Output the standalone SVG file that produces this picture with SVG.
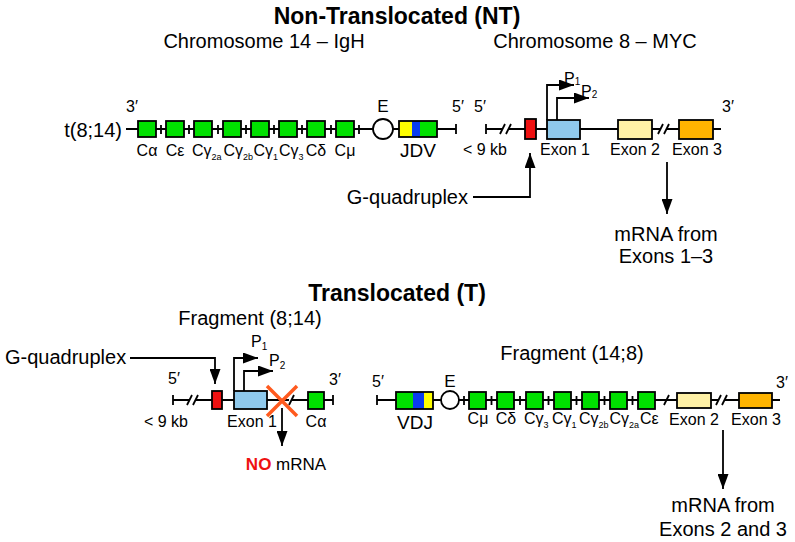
<svg xmlns="http://www.w3.org/2000/svg" width="795" height="542" viewBox="0 0 795 542">
<style>
text{font-family:"Liberation Sans",Arial,sans-serif;fill:#000}
.ttl{font-size:23px;font-weight:bold;text-anchor:middle}
.sub{font-size:20px;text-anchor:middle}
.lb{font-size:16px}
.mid{text-anchor:middle}
.big{font-size:20px}
.ln{stroke:#000;stroke-width:1.8;fill:none}
.bx{stroke:#000;stroke-width:1.8}
.g{fill:#00e000}.r{fill:#ee1111}.b{fill:#0a3cf0}.y{fill:#ffff00}
.lb1{fill:#8fc9ec}.py{fill:#fff1a6}.or{fill:#ffb400}
.ci{fill:#fff;stroke:#000;stroke-width:1.8}
.xx{stroke:#ff5a1e;stroke-width:3.5;fill:none}
</style>
<defs>
<marker id="ah" markerUnits="userSpaceOnUse" markerWidth="15" markerHeight="11" refX="15" refY="5.5" orient="auto"><path d="M0,0 L15,5.5 L0,11 z" fill="#000"/></marker>
</defs>

<text class="ttl" x="397" y="24">Non-Translocated (NT)</text>
<text class="sub" x="264" y="48">Chromosome 14 – IgH</text>
<text class="sub" x="595" y="48">Chromosome 8 – MYC</text>
<text class="ttl" x="397" y="301">Translocated (T)</text>
<text class="sub" x="250" y="325">Fragment (8;14)</text>
<text class="sub" x="572" y="360">Fragment (14;8)</text>

<!-- Chromosome 14 IgH -->
<g id="chr14">
<text class="big" x="122" y="137" text-anchor="end">t(8;14)</text>
<path class="ln" d="M126,129 H456 M456,124 V134 M161,125 V134 M189,125 V134 M218,125 V134 M246,125 V134 M274,125 V134 M302,125 V134 M331,125 V134 M359,125 V134"/>
<rect class="bx g" x="138" y="121" width="18" height="16"/>
<rect class="bx g" x="166" y="121" width="18" height="16"/>
<rect class="bx g" x="194" y="121" width="18" height="16"/>
<rect class="bx g" x="223" y="121" width="18" height="16"/>
<rect class="bx g" x="251" y="121" width="18" height="16"/>
<rect class="bx g" x="279" y="121" width="18" height="16"/>
<rect class="bx g" x="307" y="121" width="18" height="16"/>
<rect class="bx g" x="336" y="121" width="18" height="16"/>
<circle class="ci" cx="383" cy="129" r="10"/>
<rect class="y" x="399" y="121" width="13" height="16"/>
<rect class="b" x="412" y="121" width="8" height="16"/>
<rect class="g" x="420" y="121" width="17" height="16"/>
<rect class="bx" x="399" y="121" width="38" height="16" fill="none"/>
<text class="lb" x="126" y="112">3′</text>
<text class="mid" x="383" y="112" font-size="17">E</text>
<text class="lb" x="452" y="112">5′</text>
<text class="lb mid" x="147" y="156">Cα</text>
<text class="lb mid" x="175" y="156">Cε</text>
<text class="lb" x="192" y="156">Cγ<tspan font-size="9" dy="4">2a</tspan></text>
<text class="lb" x="223.5" y="156">Cγ<tspan font-size="9" dy="4">2b</tspan></text>
<text class="lb" x="253.5" y="156">Cγ<tspan font-size="9" dy="4">1</tspan></text>
<text class="lb" x="279" y="156">Cγ<tspan font-size="9" dy="4">3</tspan></text>
<text class="lb mid" x="316" y="156">Cδ</text>
<text class="lb mid" x="345" y="156">Cμ</text>
<text class="mid" x="418" y="157" font-size="19">JDV</text>
</g>

<!-- Chromosome 8 MYC -->
<g id="chr8">
<path class="ln" d="M486,124 V134 M486,129 H503 M500,134 L505,124 M506,134 L511,124 M509,129 H525 M536,129 H547 M580,129 H618 M652,129 H661 M658,134 L663,124 M664,134 L669,124 M667,129 H679 M713,129 H721"/>
<rect class="bx r" x="525" y="119" width="11" height="20"/>
<rect class="bx lb1" x="547" y="120" width="33" height="19"/>
<rect class="bx py" x="618" y="120" width="34" height="19"/>
<rect class="bx or" x="679" y="120" width="34" height="19"/>
<path class="ln" d="M547,120 V85 H574" marker-end="url(#ah)"/>
<path class="ln" d="M557,120 V98 H589" marker-end="url(#ah)"/>
<text class="lb" x="564" y="84">P<tspan font-size="10" dy="1">1</tspan></text>
<text class="lb" x="581" y="97">P<tspan font-size="10" dy="1">2</tspan></text>
<text class="lb" x="474" y="112">5′</text>
<text class="lb" x="722" y="112">3′</text>
<text class="lb" x="507" y="155" text-anchor="end">&lt; 9 kb</text>
<text class="lb mid" x="565" y="155">Exon 1</text>
<text class="lb mid" x="635" y="155">Exon 2</text>
<text class="lb mid" x="697" y="155">Exon 3</text>
</g>

<!-- Fragment (8;14) -->
<g id="frag814">
<path class="ln" d="M173,395 V405 M173,400 H190 M187,405 L192,395 M193,405 L198,395 M196,400 H212 M222,400 H234 M267,400 H289 M289,405 L294,395 M292,400 H308 M324,400 H333 M333,395 V405"/>
<rect class="bx r" x="212" y="391" width="10" height="18"/>
<rect class="bx lb1" x="234" y="391" width="33" height="18"/>
<rect class="bx g" x="308" y="392" width="16" height="17"/>
<path class="xx" d="M267,386 L297,416 M297,386 L267,416"/>
<path class="ln" d="M234,391 V358 H258" marker-end="url(#ah)"/>
<path class="ln" d="M244,391 V371 H273" marker-end="url(#ah)"/>
<text class="lb" x="251" y="347">P<tspan font-size="10" dy="3">1</tspan></text>
<text class="lb" x="269" y="366">P<tspan font-size="10" dy="3">2</tspan></text>
<text class="lb" x="168" y="384">5′</text>
<text class="lb" x="329" y="385">3′</text>
<text class="lb" x="188" y="427" text-anchor="end">&lt; 9 kb</text>
<text class="lb mid" x="252" y="427">Exon 1</text>
<text class="lb mid" x="316" y="427">Cα</text>
</g>

<!-- Fragment (14;8) -->
<g id="frag148">
<path class="ln" d="M377,395 V405 M377,400 H396 M433,400 H441 M459,400 H469 M464,396 V405 M486,400 H497 M491.5,396 V405 M514,400 H526 M520,396 V405 M543,400 H554 M548.5,396 V405 M571,400 H582 M576.5,396 V405 M599,400 H610 M604.5,396 V405 M627,400 H638 M632.5,396 V405 M655,400 H666 M664,405 L669,395 M667,400 H677 M711,400 H719 M716,405 L721,395 M722,405 L727,395 M725,400 H739 M772,400 H780"/>
<rect class="g" x="396" y="392" width="17" height="17"/>
<rect class="b" x="413" y="392" width="11" height="17"/>
<rect class="y" x="424" y="392" width="9" height="17"/>
<rect class="bx" x="396" y="392" width="37" height="17" fill="none"/>
<circle class="ci" cx="450" cy="400" r="9"/>
<rect class="bx g" x="469" y="392" width="17" height="17"/>
<rect class="bx g" x="497" y="392" width="17" height="17"/>
<rect class="bx g" x="526" y="392" width="17" height="17"/>
<rect class="bx g" x="554" y="392" width="17" height="17"/>
<rect class="bx g" x="582" y="392" width="17" height="17"/>
<rect class="bx g" x="610" y="392" width="17" height="17"/>
<rect class="bx g" x="638" y="392" width="17" height="17"/>
<rect class="bx py" x="677" y="393" width="34" height="15"/>
<rect class="bx or" x="739" y="393" width="33" height="15"/>
<text class="lb" x="372" y="387">5′</text>
<text class="mid" x="450" y="387" font-size="17">E</text>
<text class="lb" x="776" y="388">3′</text>
<text class="mid" x="415" y="429" font-size="19">VDJ</text>
<text class="lb mid" x="478" y="424">Cμ</text>
<text class="lb mid" x="506" y="424">Cδ</text>
<text class="lb" x="524" y="424">Cγ<tspan font-size="9" dy="4">3</tspan></text>
<text class="lb" x="552" y="424">Cγ<tspan font-size="9" dy="4">1</tspan></text>
<text class="lb" x="579" y="424">Cγ<tspan font-size="9" dy="4">2b</tspan></text>
<text class="lb" x="609.5" y="424">Cγ<tspan font-size="9" dy="4">2a</tspan></text>
<text class="lb" x="640" y="424">Cε</text>
<text class="lb mid" x="694" y="425">Exon 2</text>
<text class="lb mid" x="756" y="425">Exon 3</text>
</g>

<!-- Connectors and annotations -->
<g id="connectors">
<path class="ln" d="M473,197 H530 V153" marker-end="url(#ah)"/>
<text class="big" x="468" y="204" text-anchor="end">G-quadruplex</text>
<path class="ln" d="M667,162 V214" marker-end="url(#ah)"/>
<text class="big mid" x="666" y="241">mRNA from</text>
<text class="big mid" x="666" y="263">Exons 1–3</text>
<path class="ln" d="M130,358 H215 V384" marker-end="url(#ah)"/>
<text class="big" x="5" y="364">G-quadruplex</text>
<path class="ln" d="M282,408 V446" marker-end="url(#ah)"/>
<text x="286" y="470" font-size="17" text-anchor="middle"><tspan font-weight="bold" fill="#ee1111">NO</tspan> mRNA</text>
<path class="ln" d="M723,430 V489" marker-end="url(#ah)"/>
<text class="big mid" x="723" y="512">mRNA from</text>
<text class="big mid" x="723" y="536">Exons 2 and 3</text>
</g>
</svg>
